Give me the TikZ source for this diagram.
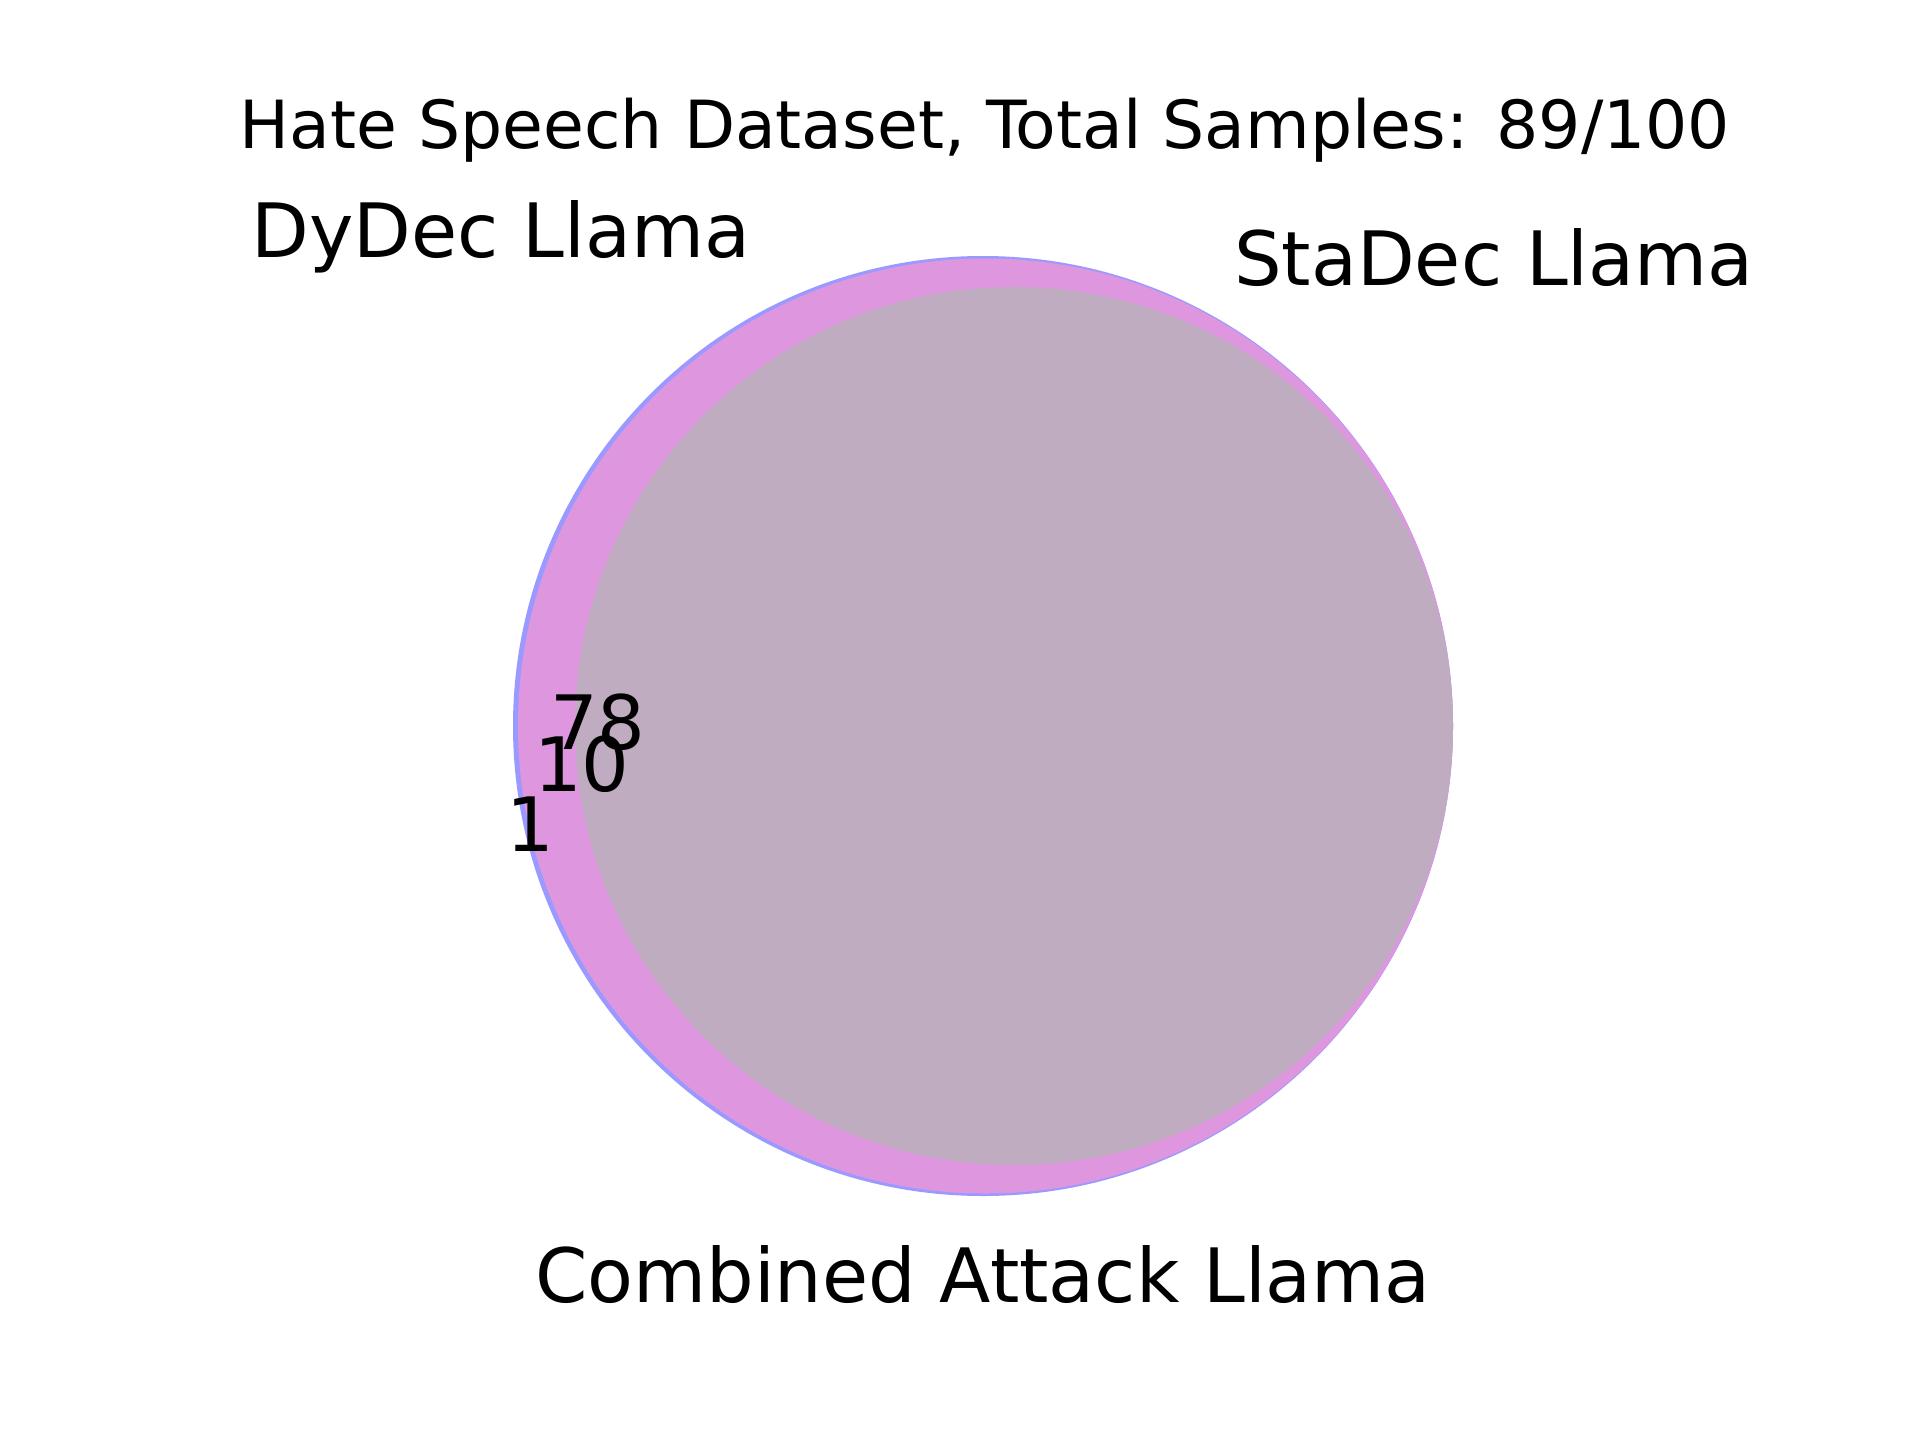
\documentclass[tikz,border=0pt]{standalone}
\usepackage{fontspec}
\setmainfont{DejaVu Sans}
\definecolor{onlyC}{RGB}{153,153,255}
\definecolor{regAC}{RGB}{222,150,222}
\definecolor{regABC}{RGB}{192,172,193}
\begin{document}
\begin{tikzpicture}[x=1pt,y=-1pt,
  lbl/.style={anchor=base,inner sep=0pt,font=\fontsize{75}{90}\selectfont},
  ttl/.style={anchor=base,inner sep=0pt,font=\fontsize{66.4}{80}\selectfont},
  num/.style={anchor=base,inner sep=0pt,font=\fontsize{75}{90}\selectfont}]
\useasboundingbox[fill=white] (0,0) rectangle (1920,1440);
% circles
\fill[onlyC] (983,726) circle[radius=470];
\fill[regAC] (985.5,726) circle[radius=467.5];
\fill[regABC] (1014,726) circle[radius=439];
% texts
\node[ttl] (title) at (985,148) {Hate Speech Dataset, Total Samples: 89/100};
\node[lbl] (dydec) at (501,257) {DyDec Llama};
\node[lbl] (stadec) at (1494,285) {StaDec Llama};
\node[lbl] (comb) at (983,1302) {Combined Attack Llama};
\node[num] (n78) at (598,749) {78};
\node[num] (n10) at (582,791) {10};
\node[num] (n1) at (530,851) {1};
\end{tikzpicture}
\end{document}
